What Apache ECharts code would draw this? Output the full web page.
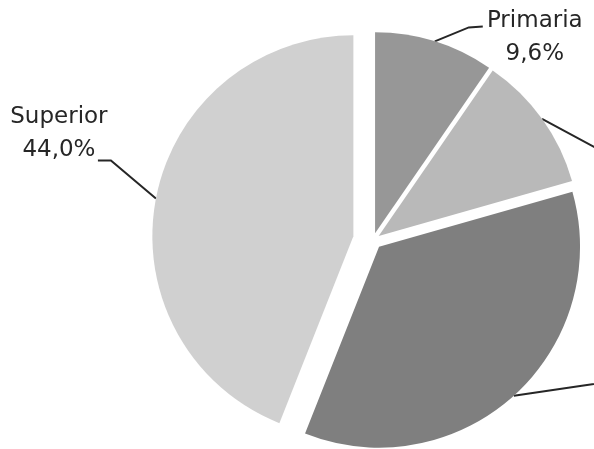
<!DOCTYPE html>
<html>
<head>
<meta charset="utf-8">
<script src="https://cdn.jsdelivr.net/npm/echarts@6/dist/echarts.min.js"></script>
<style>
  html, body { margin: 0; padding: 0; background: #ffffff; overflow: hidden; }
  #chart { width: 594px; height: 449px; }
</style>
</head>
<body>
<div id="chart"></div>
<script>
// Nivel educativo: distribución porcentual
const categories = ['Primaria', 'Secundaria', 'Técnica', 'Superior'];
const shares = [9.6, 11.0, 35.4, 44.0];

// Styling
const sliceColors = ['#979797', '#b9b9b9', '#7f7f7f', '#d0d0d0'];
const explode = [7, 7, 9, 20];          // px each slice is pulled out
const pieCenter = [373, 240];
const pieRadius = 201;
// Leader line bends (relative to the slice's outer mid point) and label block centre
const leaders = [
  { path: [[34, -14], [48, -15]], text: [100, -4] },
  { path: [[52, 28], [150, 80]], text: [230, 80] },
  { path: [[68, -10], [170, -24]], text: [250, -24] },
  { path: [[-45, -38], [-58, -38]], text: [-97, -65] }
];

const fmt = v => v.toFixed(1).replace('.', ',') + '%';

const total = shares.reduce((a, b) => a + b, 0);
let acc = 0;
const midAngles = shares.map(v => {
  const m = (acc + v / 2) / total * 2 * Math.PI;
  acc += v;
  return m;
});

// One pie per slice so each can be exploded by its own distance
const series = categories.map((_, i) => {
  const m = midAngles[i];
  const c = [pieCenter[0] + explode[i] * Math.sin(m), pieCenter[1] - explode[i] * Math.cos(m)];
  const anchor = [c[0] + pieRadius * Math.sin(m), c[1] - pieRadius * Math.cos(m)];
  const ld = leaders[i];
  return {
    type: 'pie',
    center: c,
    radius: pieRadius,
    startAngle: 90,
    clockwise: true,
    silent: true,
    animation: false,
    avoidLabelOverlap: false,
    data: categories.map((name, j) => ({
      name: name,
      value: shares[j],
      itemStyle: { color: j === i ? sliceColors[j] : 'rgba(0,0,0,0)', borderWidth: 0 },
      label: { show: j === i },
      labelLine: { show: j === i }
    })),
    label: {
      formatter: p => '{t|' + p.name + '}\n{t|' + fmt(p.value) + '}',
      rich: {
        t: { fontFamily: 'DejaVu Sans', fontSize: 23, lineHeight: 33, width: 130, align: 'center', color: '#262626' }
      }
    },
    labelLine: { lineStyle: { color: '#262626', width: 2 }, smooth: false },
    labelLayout: params => {
      if (params.dataIndex !== i) return {};
      const pts = [anchor].concat(ld.path.map(d => [anchor[0] + d[0], anchor[1] + d[1]]));
      return {
        x: anchor[0] + ld.text[0],
        y: anchor[1] + ld.text[1],
        align: 'center',
        verticalAlign: 'middle',
        labelLinePoints: pts
      };
    }
  };
});

const chart = echarts.init(document.getElementById('chart'), null, { renderer: 'canvas' });
chart.setOption({
  backgroundColor: '#ffffff',
  animation: false,
  series: series
});
</script>
</body>
</html>
